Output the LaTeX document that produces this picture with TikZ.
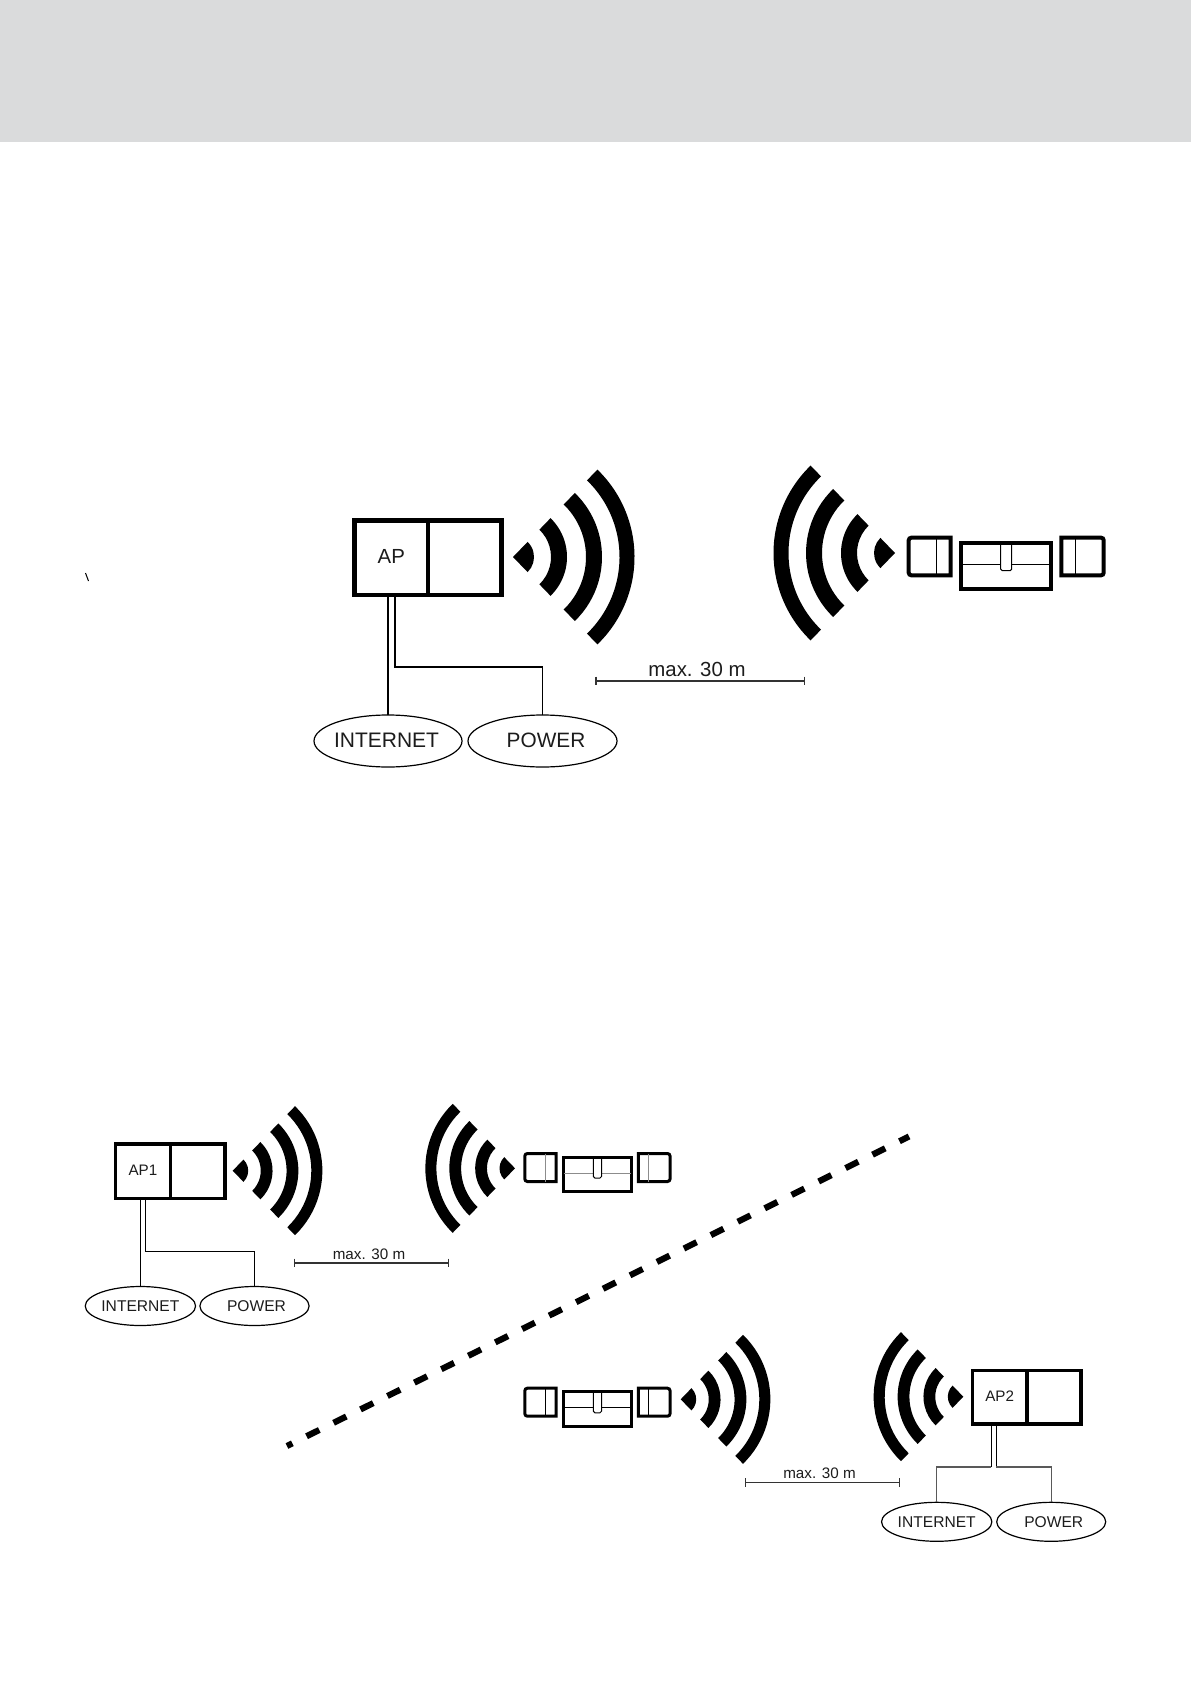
\documentclass[tikz,border=0pt]{standalone}
\usepackage{fontspec}
\setmainfont{Liberation Sans}
\usetikzlibrary{shapes.geometric}
\definecolor{band}{HTML}{DADBDC}
\definecolor{ink}{HTML}{1C1C1C}
\tikzset{
  x=0.5pt,y=-0.5pt,
  cell/.style={draw=black,rectangle,inner sep=0pt,outer sep=0pt,text=ink,line join=miter},
  cloud/.style={draw=black,ellipse,inner sep=0pt,outer sep=0pt,text=ink,line width=0.6pt},
  wire/.style={draw=black,line width=0.6pt,line join=miter},
  greywire/.style={draw=black!65,line width=0.55pt,line join=miter},
  barline/.style={draw=black!80,line width=0.55pt},
  barlabel/.style={inner sep=0pt,text=ink},
  splitline/.style={draw=black,line width=3.1pt,dash pattern=on 7.1pt off 7.95pt,dash phase=4.1pt},
}
% name, x0, xdiv, x1, y0, y1, label, font size, line width
\newcommand\apunit[9]{%
  \node[cell,line width=#9,minimum width={(#3-#2)*0.5pt},minimum height={(#6-#5)*0.5pt},
        font=\fontsize{#8pt}{#8pt}\selectfont] (#1) at ({(#2+#3)/2},{(#5+#6)/2}) {\raisebox{0.8pt}{#7}};
  \node[cell,line width=#9,minimum width={(#4-#3)*0.5pt},minimum height={(#6-#5)*0.5pt}] (#1r) at ({(#3+#4)/2},{(#5+#6)/2}) {};
}
% x, y, scale, direction
\newcommand\wavefan[4]{%
  \begin{scope}[shift={(#1,#2)}]
    \fill[black] (0,0) -- ({#4-46}:{21*#3*0.5pt}) arc[start angle={#4-46},end angle={#4+46},radius={21*#3*0.5pt}] -- cycle;
    \foreach \ra/\rb in {38/54,73/89,106.5/121.5}{
      \fill[black] ({#4-46}:{\rb*#3*0.5pt}) arc[start angle={#4-46},end angle={#4+46},radius={\rb*#3*0.5pt}]
        -- ({#4+46}:{\ra*#3*0.5pt}) arc[start angle={#4+46},end angle={#4-46},radius={\ra*#3*0.5pt}] -- cycle;
    }
  \end{scope}}
% x, y, scale, heavy width, inner line colour
\newcommand\lockset[5]{%
  \begin{scope}[shift={(#1,#2)},x={#3*0.5pt},y={-#3*0.5pt}]
    \draw[black,line width=#4] (23,2) [sharp corners] -- (44,2) -- (44,39.6) -- (23,39.6) [rounded corners=1.3pt] -- (2,39.6) -- (2,2) -- cycle;
    \draw[#5,line width=0.5pt] (30,2) -- (30,39.6);
    \draw[black,line width=#4] (54.3,7) rectangle (144.6,53);
    \draw[#5,line width=0.5pt] (54.3,28.3) -- (94,28.3) (105,28.3) -- (144.6,28.3);
    \draw[black,line width=0.5pt,rounded corners=0.8pt] (94,7) -- (94,35) -- (105,35) -- (105,7);
    \draw[black,line width=#4] (176,2) [sharp corners] -- (154.6,2) -- (154.6,39.6) -- (176,39.6) [rounded corners=1.3pt] -- (197,39.6) -- (197,2) -- cycle;
    \draw[#5,line width=0.5pt] (168.3,2) -- (168.3,39.6);
  \end{scope}}
% name, x0, x1, y, label x, label y, font size
\newcommand\scalebar[7]{%
  \coordinate (#1a) at (#2,#4);
  \coordinate (#1b) at (#3,#4);
  \draw[barline] (#1a) -- (#1b);
  \draw[barline] ([yshift=2.2pt]#1a) -- ([yshift=-2.2pt]#1a);
  \draw[barline] ([yshift=2.2pt]#1b) -- ([yshift=-2.2pt]#1b);
  \node[barlabel,font=\fontsize{#7pt}{#7pt}\selectfont] (#1t) at (#5,#6) {max. 30 m};
}
\begin{document}
\begin{tikzpicture}
  \useasboundingbox (0,0) rectangle (1191,1684);
  \fill[white] (0,0) rectangle (1191,1684);
  \fill[band] (0,0) rectangle (1191,142);
  \coordinate (speckA) at (85.5,573);
  \coordinate (speckB) at (88.5,581);
  \draw[black,line width=0.5pt] (speckA) -- (speckB);

  % ---- upper diagram
  \apunit{ap}{354.5}{428}{501.5}{520.5}{595}{AP}{10.2}{2.25pt}
  \wavefan{513}{557}{1}{0}
  \wavefan{895}{553}{1}{180}
  \lockset{906.7}{535.7}{1}{2pt}{black}
  \scalebar{sa}{596}{804.5}{681}{697}{669.5}{10.2}
  \node[cloud,minimum width=74pt,minimum height=26pt,font=\fontsize{10.5pt}{10.5pt}\selectfont] (inetA) at (388,741) {\hspace{-1.5pt}\raisebox{0.4pt}{INTERNET}};
  \node[cloud,minimum width=74.5pt,minimum height=26pt,font=\fontsize{10.4pt}{10.4pt}\selectfont] (powA) at (542.5,741) {\hspace{3.5pt}\raisebox{0.4pt}{POWER}};
  \coordinate (bendA) at (395,667);
  \draw[wire] (inetA.north) -- (inetA.north |- ap.south);
  \draw[wire] (powA.north) -- (powA.north |- bendA) -- (bendA) -- (bendA |- ap.south);

  % ---- lower left diagram
  \apunit{apone}{115.6}{170.3}{225}{1144}{1198.3}{AP1}{7.6}{1.65pt}
  \wavefan{232.7}{1170.7}{0.738}{0}
  \wavefan{515}{1168.3}{0.738}{180}
  \lockset{523.3}{1152}{0.745}{1.5pt}{black!45}
  \scalebar{sb}{294.4}{448.5}{1263}{369}{1254}{7.6}
  \node[cloud,minimum width=54.5pt,minimum height=19.5pt,font=\fontsize{7.8pt}{7.8pt}\selectfont] (inetB) at (140.4,1306) {INTERNET};
  \node[cloud,minimum width=54.6pt,minimum height=19.5pt,font=\fontsize{7.8pt}{7.8pt}\selectfont] (powB) at (254.5,1306) {\hspace{2pt}POWER};
  \coordinate (bendB) at (145.7,1251.7);
  \draw[wire] (inetB.north) -- (inetB.north |- apone.south);
  \draw[wire] (powB.north) -- (powB.north |- bendB) -- (bendB) -- (bendB |- apone.south);

  % ---- dividing line
  \coordinate (dashA) at (287,1446);
  \coordinate (dashB) at (909,1136.5);
  \draw[splitline] (dashA) -- (dashB);

  % ---- lower right diagram
  \lockset{523.3}{1386.7}{0.745}{1.5pt}{black}
  \wavefan{680.7}{1399.3}{0.738}{0}
  \wavefan{963.3}{1396.7}{0.738}{180}
  \apunit{aptwo}{972.3}{1027}{1081}{1370.3}{1424}{AP2}{7.6}{1.65pt}
  \scalebar{sc}{745.7}{899.3}{1482.7}{819.5}{1473.5}{7.6}
  \node[cloud,minimum width=54.3pt,minimum height=19.5pt,font=\fontsize{7.8pt}{7.8pt}\selectfont] (inetC) at (936.7,1521.8) {INTERNET};
  \node[cloud,minimum width=54.5pt,minimum height=19.5pt,font=\fontsize{7.8pt}{7.8pt}\selectfont] (powC) at (1051.2,1521.8) {\hspace{2.5pt}POWER};
  \coordinate (bendC) at (991.3,1467);
  \coordinate (bendD) at (996.3,1467);
  \draw[wire] (bendC |- aptwo.south) -- (bendC);
  \draw[wire] (bendD |- aptwo.south) -- (bendD);
  \draw[greywire] (bendC) -- (bendC -| inetC.north) -- (inetC.north);
  \draw[greywire] (bendD) -- (bendD -| powC.north) -- (powC.north);
\end{tikzpicture}
\end{document}
